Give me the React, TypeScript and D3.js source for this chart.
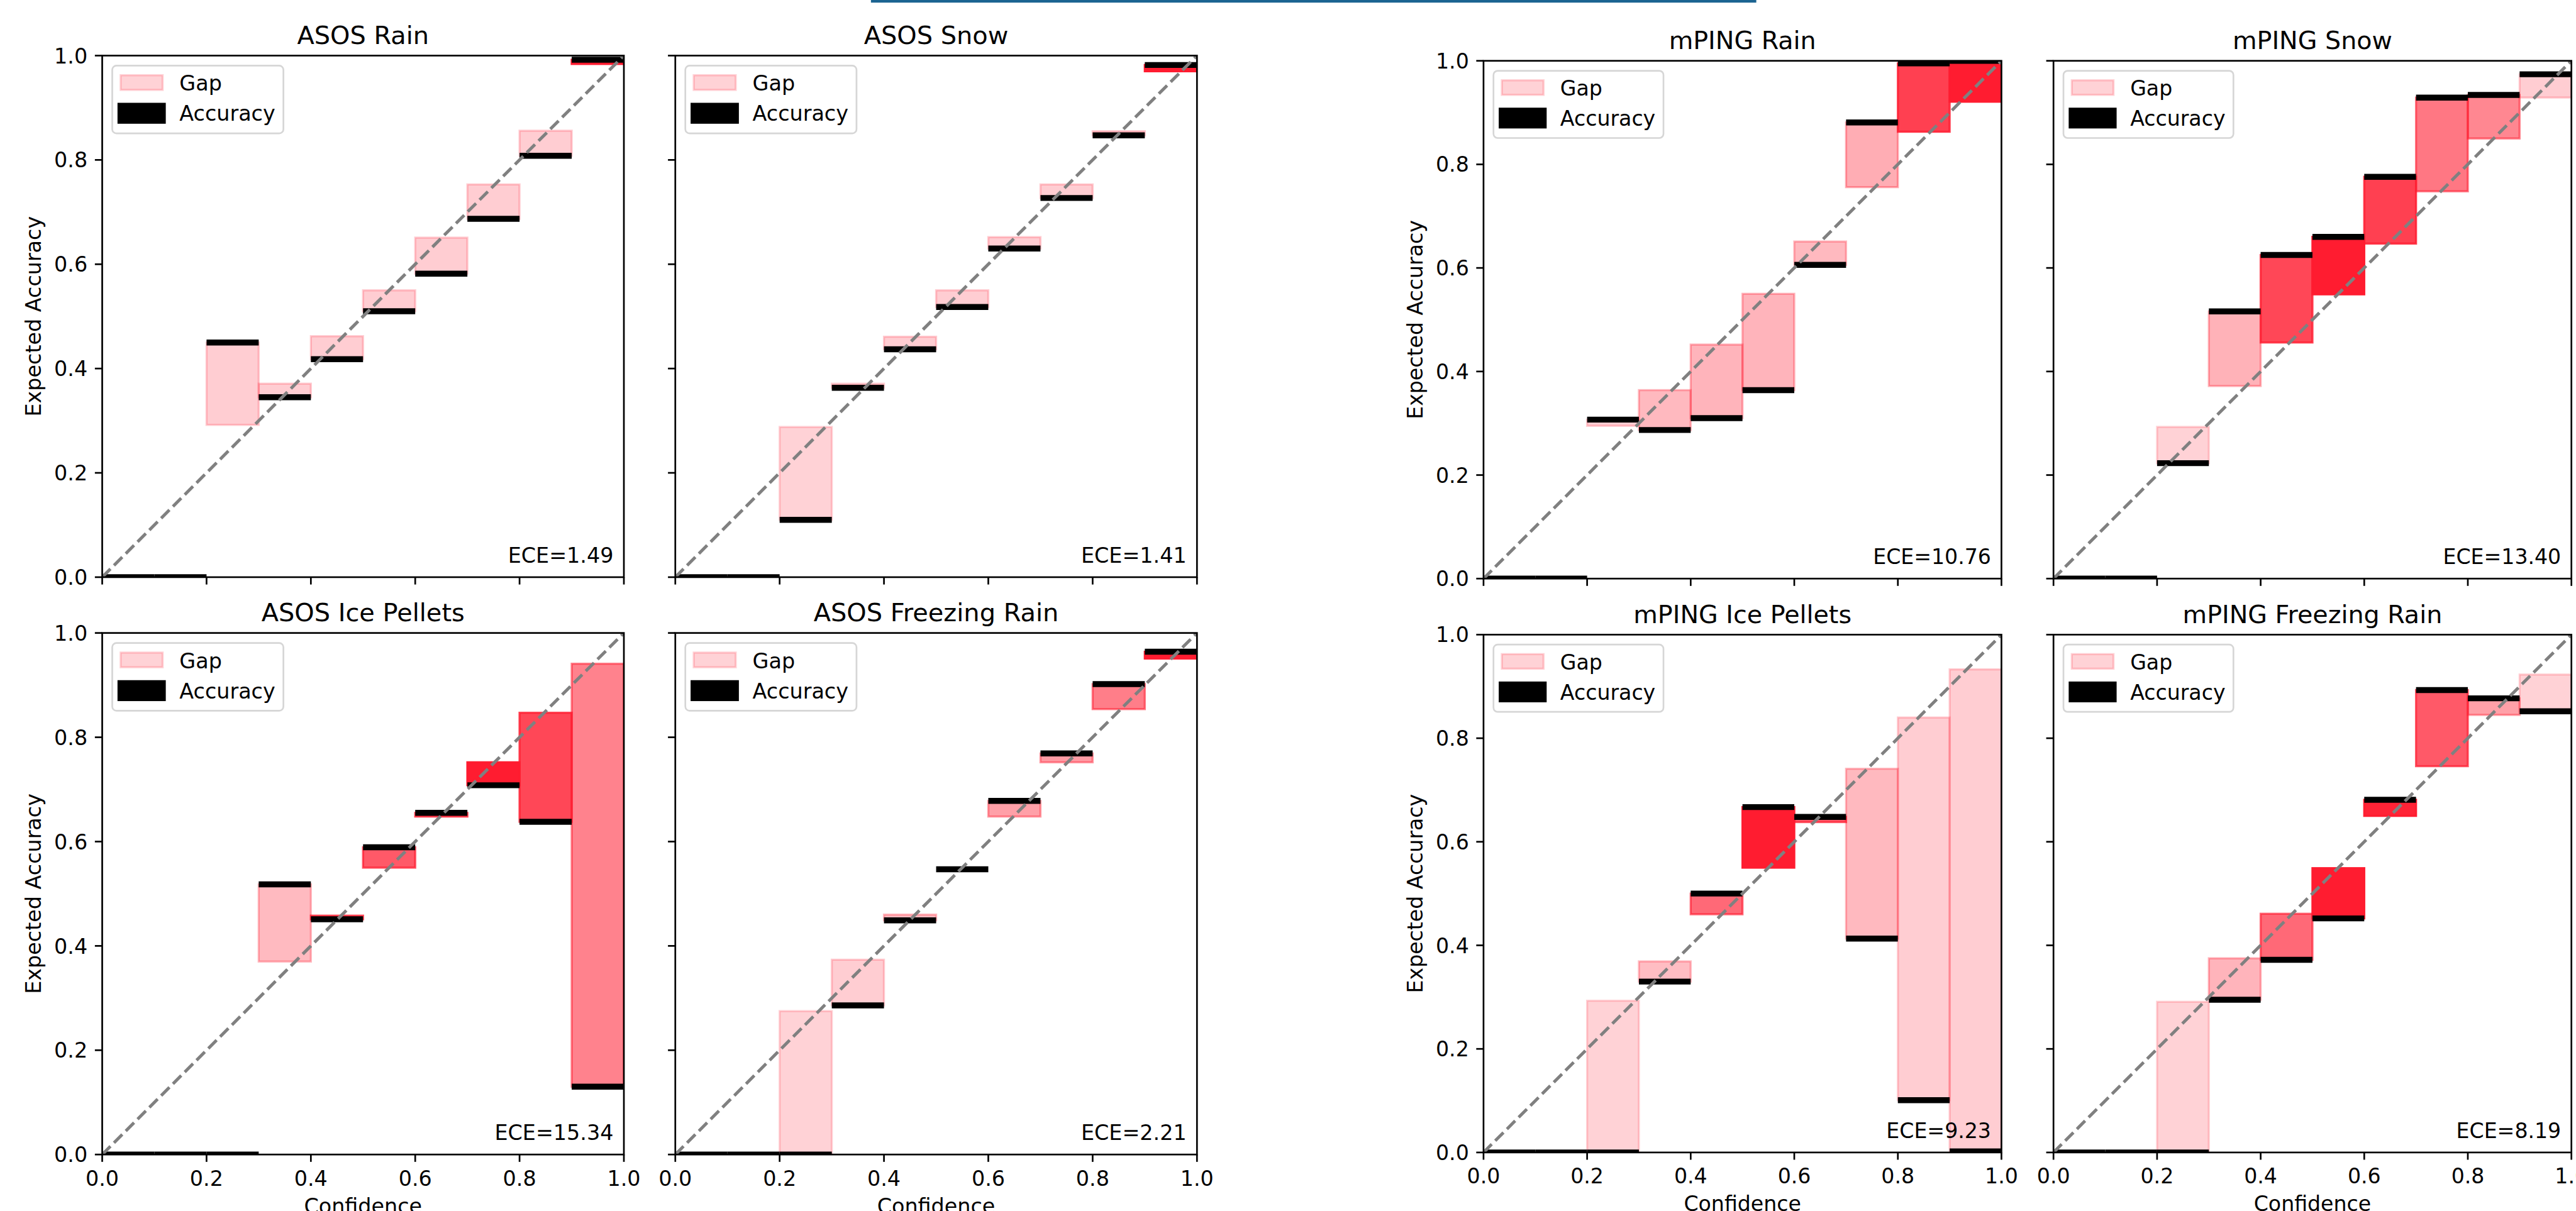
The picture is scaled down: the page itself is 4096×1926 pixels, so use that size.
import React from "react";
import * as d3 from "d3";

// ---------- data ----------
const binLower = [0.0, 0.1, 0.2, 0.3, 0.4, 0.5, 0.6, 0.7, 0.8, 0.9];
const binWidth = 0.1;
const tickValues = [0.0, 0.2, 0.4, 0.6, 0.8, 1.0];
const tickLabels = ["0.0", "0.2", "0.4", "0.6", "0.8", "1.0"];

const panelTitles = [
  "ASOS Rain", "ASOS Snow", "mPING Rain", "mPING Snow",
  "ASOS Ice Pellets", "ASOS Freezing Rain", "mPING Ice Pellets", "mPING Freezing Rain",
];
const eceLabels = [
  "ECE=1.49", "ECE=1.41", "ECE=10.76", "ECE=13.40",
  "ECE=15.34", "ECE=2.21", "ECE=9.23", "ECE=8.19",
];

const asosRainAcc = [0, 0, 0.45, 0.345, 0.418, 0.51, 0.582, 0.687, 0.808, 0.992];
const asosRainConf = [0, 0, 0.292, 0.371, 0.462, 0.55, 0.651, 0.753, 0.856, 0.984];
const asosRainAlpha = [0.2, 0.2, 0.22, 0.22, 0.22, 0.22, 0.22, 0.22, 0.22, 1.0];

const asosSnowAcc = [0, 0, 0.11, 0.363, 0.437, 0.518, 0.63, 0.727, 0.847, 0.982];
const asosSnowConf = [0, 0, 0.288, 0.371, 0.461, 0.55, 0.652, 0.753, 0.855, 0.97];
const asosSnowAlpha = [0.2, 0.2, 0.2, 0.2, 0.22, 0.22, 0.22, 0.22, 0.22, 1.0];

const mpingRainAcc = [0, 0, 0.307, 0.287, 0.31, 0.364, 0.606, 0.881, 0.995, 1.0];
const mpingRainConf = [0, 0, 0.295, 0.364, 0.452, 0.55, 0.651, 0.756, 0.863, 0.921];
const mpingRainAlpha = [0.2, 0.2, 0.22, 0.31, 0.33, 0.33, 0.31, 0.36, 0.84, 1.0];

const mpingSnowAcc = [0, 0, 0.223, 0.516, 0.625, 0.66, 0.776, 0.929, 0.934, 0.974];
const mpingSnowConf = [0, 0, 0.293, 0.372, 0.456, 0.549, 0.647, 0.748, 0.85, 0.929];
const mpingSnowAlpha = [0.2, 0.2, 0.2, 0.34, 0.81, 1.0, 0.84, 0.6, 0.53, 0.22];

const asosIpAcc = [0, 0, 0, 0.518, 0.451, 0.589, 0.655, 0.708, 0.638, 0.13];
const asosIpConf = [0, 0, 0, 0.37, 0.458, 0.55, 0.648, 0.752, 0.847, 0.941];
const asosIpAlpha = [0.2, 0.2, 0.2, 0.3, 0.78, 0.73, 0.8, 1.0, 0.81, 0.55];

const asosFzraAcc = [0, 0, 0, 0.286, 0.449, 0.547, 0.678, 0.769, 0.902, 0.964];
const asosFzraConf = [0, 0, 0.275, 0.3735, 0.46, 0.547, 0.648, 0.752, 0.854, 0.951];
const asosFzraAlpha = [0.2, 0.2, 0.2, 0.22, 0.3, 0.4, 0.42, 0.44, 0.57, 1.0];

const mpingIpAcc = [0, 0, 0, 0.33, 0.5, 0.667, 0.648, 0.413, 0.101, 0.002];
const mpingIpConf = [0, 0, 0.293, 0.369, 0.46, 0.55, 0.638, 0.741, 0.84, 0.933];
const mpingIpAlpha = [0.2, 0.2, 0.2, 0.29, 0.66, 1.0, 0.72, 0.31, 0.22, 0.22];

const mpingFzraAcc = [0, 0, 0, 0.295, 0.372, 0.452, 0.681, 0.893, 0.877, 0.852];
const mpingFzraConf = [0, 0, 0.291, 0.375, 0.461, 0.549, 0.65, 0.746, 0.845, 0.923];
const mpingFzraAlpha = [0.2, 0.2, 0.2, 0.33, 0.66, 1.0, 0.97, 0.73, 0.42, 0.2];

const accuracySeries = [asosRainAcc, asosSnowAcc, mpingRainAcc, mpingSnowAcc, asosIpAcc, asosFzraAcc, mpingIpAcc, mpingFzraAcc];
const confidenceSeries = [asosRainConf, asosSnowConf, mpingRainConf, mpingSnowConf, asosIpConf, asosFzraConf, mpingIpConf, mpingFzraConf];
const alphaSeries = [asosRainAlpha, asosSnowAlpha, mpingRainAlpha, mpingSnowAlpha, asosIpAlpha, asosFzraAlpha, mpingIpAlpha, mpingFzraAlpha];

// ---------- layout (reference pixels) ----------
const layout = [
  { left: 163, top: 88.7, size: 832, s: 1, yLabels: true, xLabels: false },
  { left: 1077, top: 88.7, size: 832, s: 1, yLabels: false, xLabels: false },
  { left: 2366, top: 97, size: 826, s: 0.993, yLabels: true, xLabels: false },
  { left: 3275, top: 97, size: 826, s: 0.993, yLabels: false, xLabels: false },
  { left: 163, top: 1009.7, size: 832, s: 1, yLabels: true, xLabels: true },
  { left: 1077, top: 1009.7, size: 832, s: 1, yLabels: false, xLabels: true },
  { left: 2366, top: 1012.4, size: 826, s: 0.993, yLabels: true, xLabels: true },
  { left: 3275, top: 1012.4, size: 826, s: 0.993, yLabels: false, xLabels: true },
];

const FONT = "'DejaVu Sans', sans-serif";
const RED = [255, 28, 48];
const rgba = (a: number) => `rgba(${RED[0]},${RED[1]},${RED[2]},${a})`;
const GLOBAL = 0.997;

function Panel({ idx }: { idx: number }) {
  const L = layout[idx];
  const s = L.s;
  const fs = 33.5 * s;
  const x = d3.scaleLinear().domain([0, 1]).range([L.left, L.left + L.size]);
  const y = d3.scaleLinear().domain([0, 1]).range([L.top + L.size, L.top]);
  const acc = accuracySeries[idx];
  const conf = confidenceSeries[idx];
  const alpha = alphaSeries[idx];
  const clipId = `clip-${idx}`;
  const bottom = y(0);
  const right = x(1);
  const tickLen = 11.7 * s;
  const spineW = 2.7 * s;
  const line = d3.line<[number, number]>().x((d) => x(d[0])).y((d) => y(d[1]));
  const cx = (x(0) + x(1)) / 2;
  const cy = (y(0) + y(1)) / 2;
  const lgL = L.left + 16 * s;
  const lgT = L.top + 16 * s;

  return (
    <g>
      <defs>
        <clipPath id={clipId}>
          <rect x={x(0)} y={y(1)} width={x(1) - x(0)} height={y(0) - y(1)} />
        </clipPath>
      </defs>
      <g clipPath={`url(#${clipId})`}>
        {binLower.map((lo, i) => {
          const top = Math.max(acc[i], conf[i]);
          const bot = Math.min(acc[i], conf[i]);
          const h = y(bot) - y(top);
          if (h <= 0) return null;
          return (
            <rect
              key={`g${i}`}
              x={x(lo)}
              y={y(top)}
              width={x(lo + binWidth) - x(lo)}
              height={h}
              fill={rgba(alpha[i])}
              stroke={rgba(alpha[i])}
              strokeWidth={3.35 * s}
            />
          );
        })}
        {binLower.map((lo, i) => (
          <line
            key={`a${i}`}
            x1={x(lo)}
            x2={x(lo + binWidth)}
            y1={y(acc[i])}
            y2={y(acc[i])}
            stroke="#000"
            strokeWidth={9.5 * s}
          />
        ))}
        <path
          d={line([[0, 0], [1, 1]]) || ""}
          stroke="#808080"
          strokeWidth={5 * s}
          strokeDasharray={`${18.6 * s} ${8 * s}`}
          fill="none"
        />
      </g>
      {/* spines */}
      <rect
        x={x(0)}
        y={y(1)}
        width={x(1) - x(0)}
        height={y(0) - y(1)}
        fill="none"
        stroke="#000"
        strokeWidth={spineW}
      />
      {/* ticks */}
      {tickValues.map((v, i) => (
        <g key={`t${i}`}>
          <line x1={x(v)} x2={x(v)} y1={bottom} y2={bottom + tickLen} stroke="#000" strokeWidth={spineW} />
          <line x1={x(0) - tickLen} x2={x(0)} y1={y(v)} y2={y(v)} stroke="#000" strokeWidth={spineW} />
          {L.xLabels && (
            <text x={x(v)} y={bottom + 50 * s} textAnchor="middle" fontSize={fs} fontFamily={FONT} fill="#000">
              {tickLabels[i]}
            </text>
          )}
          {L.yLabels && (
            <text x={x(0) - 23.4 * s} y={y(v) + 12.2 * s} textAnchor="end" fontSize={fs} fontFamily={FONT} fill="#000">
              {tickLabels[i]}
            </text>
          )}
        </g>
      ))}
      {L.xLabels && (
        <text x={cx} y={bottom + 94.5 * s} textAnchor="middle" fontSize={fs} fontFamily={FONT} fill="#000">
          Confidence
        </text>
      )}
      {L.yLabels && (
        <text
          transform={`translate(${x(0) - 97.5 * s},${cy}) rotate(-90)`}
          textAnchor="middle"
          fontSize={fs}
          fontFamily={FONT}
          fill="#000"
        >
          Expected Accuracy
        </text>
      )}
      {/* title */}
      <text x={cx} y={y(1) - 18.5 * s} textAnchor="middle" fontSize={40 * s} fontFamily={FONT} fill="#000">
        {panelTitles[idx]}
      </text>
      {/* ECE */}
      <text x={right - 0.02 * L.size} y={bottom - 23.5 * s} textAnchor="end" fontSize={fs} fontFamily={FONT} fill="#000">
        {eceLabels[idx]}
      </text>
      {/* legend */}
      <g>
        <rect
          x={lgL}
          y={lgT}
          width={273 * s}
          height={108 * s}
          rx={6.7 * s}
          ry={6.7 * s}
          fill="rgba(255,255,255,0.8)"
          stroke="#d6d6d6"
          strokeWidth={2.7 * s}
        />
        <rect
          x={lgL + 13.4 * s}
          y={L.top + 43 * s - 11.7 * s}
          width={67 * s}
          height={23.4 * s}
          fill={rgba(alpha[0])}
          stroke={rgba(alpha[0])}
          strokeWidth={3.35 * s}
        />
        <rect
          x={lgL + 13.4 * s}
          y={L.top + 92 * s - 11.7 * s}
          width={67 * s}
          height={23.4 * s}
          fill="#000"
          stroke="#000"
          strokeWidth={10 * s}
        />
        <text x={lgL + 107.2 * s} y={L.top + 56 * s} fontSize={fs} fontFamily={FONT} fill="#000">
          Gap
        </text>
        <text x={lgL + 107.2 * s} y={L.top + 104.3 * s} fontSize={fs} fontFamily={FONT} fill="#000">
          Accuracy
        </text>
      </g>
    </g>
  );
}

export default function App() {
  return (
    <svg
      width={4096}
      height={1926}
      style={{ position: "absolute", left: 0, top: 0, background: "#fff" }}
    >
      <rect x={0} y={0} width={4096} height={1926} fill="#fff" />
      <g transform={`scale(${GLOBAL})`}>
        <rect x={1389} y={0} width={1412} height={4.2} fill="#1c6491" />
        {layout.map((_, i) => (
          <Panel key={i} idx={i} />
        ))}
      </g>
    </svg>
  );
}
